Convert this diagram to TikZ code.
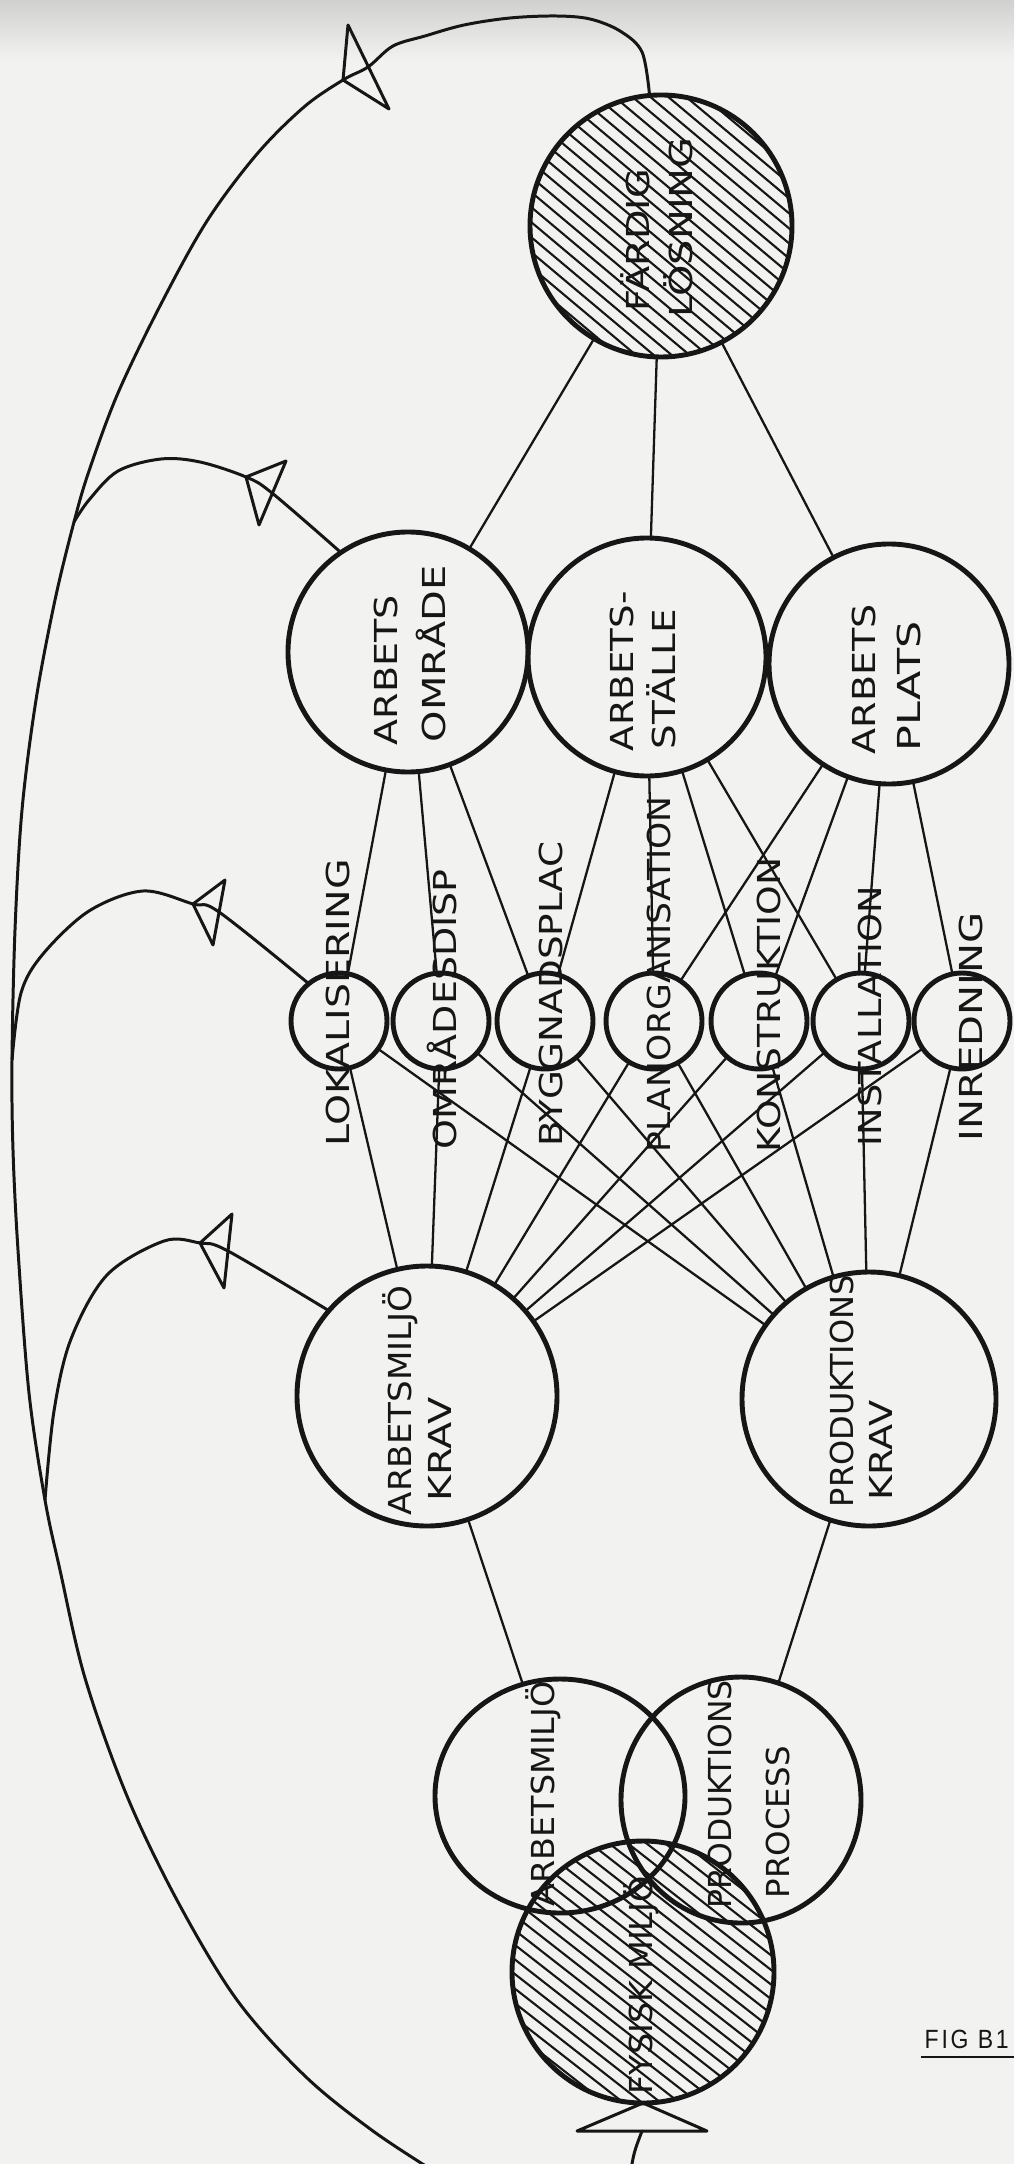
\documentclass[tikz,border=0pt]{standalone}
\usepackage{fontspec}
\usepackage{graphicx}
\setmainfont{DejaVu Sans}
\newfontfamily\typefont[LetterSpace=12]{Liberation Sans}
\usetikzlibrary{shapes.geometric}
\definecolor{paper}{RGB}{242,242,240}
\definecolor{ink}{RGB}{22,22,22}
% rotated hand label: name, baseline x, start y, length (mm), text
\newcommand{\handlabel}[5]{\node[lab] (#1) at (#2,#3) {\resizebox{#4mm}{\height}{#5}};}
\begin{document}
\begin{tikzpicture}[x=0.1mm, y=-0.1mm,
  ring/.style={draw=ink, circle, line width=1.4pt, inner sep=0pt, outer sep=0pt},
  oval/.style={draw=ink, ellipse, line width=1.4pt, inner sep=0pt, outer sep=0pt},
  conn/.style={draw=ink, line width=0.65pt},
  loopline/.style={draw=ink, line width=0.85pt, line join=round, line cap=round},
  tri/.style={draw=ink, line width=0.85pt, line join=round},
  hatch/.style={draw=ink, line width=0.6pt},
  lab/.style={rotate=90, anchor=base west, inner sep=0pt, text=ink,
              font=\fontsize{9}{10}\selectfont}]
\clip (0,0) rectangle (1014,2164);
\fill[paper] (0,0) rectangle (1014,2164);
\shade[top color=paper!86!black, bottom color=paper] (0,0) rectangle (1014,60);

% ---- circles ----
\node[ring, minimum size=26.2mm] (fard) at (661,226) {};
\node[ring, minimum size=24.0mm] (ao) at (408,652) {};
\node[ring, minimum size=23.8mm] (as) at (647,657) {};
\node[ring, minimum size=24.0mm] (ap) at (889,664) {};
\node[ring, minimum size=9.6mm] (lok) at (339,1021) {};
\node[ring, minimum size=9.6mm] (omr) at (441,1021) {};
\node[ring, minimum size=9.6mm] (byg) at (545,1021) {};
\node[ring, minimum size=9.6mm] (pla) at (654,1021) {};
\node[ring, minimum size=9.6mm] (kon) at (759,1021) {};
\node[ring, minimum size=9.6mm] (ins) at (861,1021) {};
\node[ring, minimum size=9.6mm] (inr) at (962,1021) {};
\node[ring, minimum size=26.0mm] (amk) at (427,1396) {};
\node[ring, minimum size=25.4mm] (pk) at (869,1399) {};
\node[ring, minimum size=26.2mm] (fys) at (643,1972) {};
\node[oval, minimum width=25.0mm, minimum height=23.4mm] (ve1) at (560,1796) {};
\node[oval, minimum width=24.0mm, minimum height=24.6mm] (ve2) at (741,1800) {};

% ---- hatching of the two shaded circles ----
\begin{scope}
  \clip (fard.center) circle[radius=131];
  \begin{scope}[shift={(fard.center)}, rotate=-40]
    \foreach \k in {-12,...,12} \draw[hatch] (-160,\k*11.5) -- (160,\k*11.5);
  \end{scope}
\end{scope}
\begin{scope}
  \clip (fys.center) circle[radius=131];
  \begin{scope}[shift={(fys.center)}, rotate=-38]
    \foreach \k in {-12,...,12} \draw[hatch] (-160,\k*11.5) -- (160,\k*11.5);
  \end{scope}
\end{scope}

% ---- connectors ----
\draw[conn] (fard) -- (ao);
\draw[conn] (fard) -- (as);
\draw[conn] (fard) -- (ap);
\draw[conn] (ao) -- (lok);
\draw[conn] (ao) -- (omr);
\draw[conn] (ao) -- (byg);
\draw[conn] (as) -- (byg);
\draw[conn] (as) -- (pla);
\draw[conn] (as) -- (kon);
\draw[conn] (as) -- (ins);
\draw[conn] (ap) -- (pla);
\draw[conn] (ap) -- (kon);
\draw[conn] (ap) -- (ins);
\draw[conn] (ap) -- (inr);
\foreach \s in {lok,omr,byg,pla,kon,ins,inr} {
  \draw[conn] (\s) -- (amk);
  \draw[conn] (\s) -- (pk);
}
\draw[conn] (amk) -- (ve1);
\draw[conn] (pk) -- (ve2);

% ---- feedback loops ----
\coordinate (m2) at (74,522);
\coordinate (m3) at (12,1060);
\coordinate (m4) at (45,1500);
\coordinate (exitL) at (440,2175);
\draw[loopline] plot[smooth, tension=0.55] coordinates {(fard.95) (642,52) (620,31) (590,19) (556,16) (510,18) (464,25) (425,36) (393,46) (368,67) (343,80) (304,107) (257,154) (207,221) (161,304) (118,393) (89,471) (m2) (55,600) (36,700) (22,810) (15,930) (m3) (13,1150) (18,1250) (29,1393) (m4) (60,1570) (85,1678) (127,1796) (178,1902) (237,2000) (305,2076) (373,2131) (exitL)};
\draw[loopline] plot[smooth, tension=0.55] coordinates {(ao.124) (272,493) (246,477) (200,462) (161,459) (118,471) (89,500) (m2)};
\draw[loopline] plot[smooth, tension=0.55] coordinates {(lok.129) (219,912) (193,904) (143,891) (89,911) (43,954) (21,993) (m3)};
\draw[loopline] plot[smooth, tension=0.55] coordinates {(amk.139) (228,1251) (200,1243) (164,1241) (107,1275) (71,1339) (54,1411) (m4)};
\coordinate (fin) at (642,2131);
\coordinate (exitR) at (630,2175);
\draw[loopline] (exitR) .. controls (634,2152) .. (fin);

% ---- open arrowheads ----
\draw[tri] (348,25) -- (389,109) -- (343,80) -- cycle;
\draw[tri] (286,461) -- (259,525) -- (246,477) -- cycle;
\draw[tri] (225,880) -- (213,945) -- (193,904) -- cycle;
\draw[tri] (232,1214) -- (224,1288) -- (200,1243) -- cycle;
\draw[tri] (577,2131) -- (707,2131) -- (fys.south) -- cycle;

% ---- lettering ----
\handlabel{tFard}{649}{312}{14.2}{FÄRDIG}
\handlabel{tLos}{692}{318}{18.0}{LÖSNING}
\handlabel{tAoA}{397}{746}{15.0}{ARBETS}
\handlabel{tAoB}{445}{743}{17.7}{OMRÅDE}
\handlabel{tAsA}{633}{752}{16.0}{ARBETS-}
\handlabel{tAsB}{675}{750}{14.0}{STÄLLE}
\handlabel{tApA}{875}{755}{15.0}{ARBETS}
\handlabel{tApB}{920}{752}{13.0}{PLATS}
\handlabel{tLok}{349}{1147}{28.7}{LOKALISERING}
\handlabel{tOmr}{456}{1150}{28.0}{OMRÅDESDISP}
\handlabel{tByg}{562}{1147}{30.5}{BYGGNADSPLAC}
\handlabel{tPla}{670}{1153}{35.6}{PLANORGANISATION}
\handlabel{tKon}{780}{1153}{29.5}{KONSTRUKTION}
\handlabel{tIns}{881}{1147}{26.0}{INSTALLATION}
\handlabel{tInr}{982}{1142}{22.9}{INREDNING}
\handlabel{tAmkA}{411}{1516}{23.0}{ARBETSMILJÖ}
\handlabel{tAmkB}{451}{1502}{10.4}{KRAV}
\handlabel{tPkA}{853}{1508}{23.2}{PRODUKTIONS}
\handlabel{tPkB}{892}{1501}{10.0}{KRAV}
\handlabel{tVeA}{554}{1907}{22.5}{ARBETSMILJÖ}
\handlabel{tVeB}{731}{1909}{22.8}{PRODUKTIONS}
\handlabel{tVeC}{789}{1899}{15.2}{PROCESS}
\handlabel{tFys}{652}{2095}{21.8}{FYSISK MILJÖ}

% ---- figure caption ----
\node[anchor=base west, inner sep=0pt, text=ink, font=\typefont\fontsize{7.5}{9}\selectfont] (fig) at (924,2048) {\resizebox{8.4mm}{\height}{FIG B1}};
\draw[ink, line width=0.7pt] (921,2057) -- (1014,2057);
\end{tikzpicture}
\end{document}
